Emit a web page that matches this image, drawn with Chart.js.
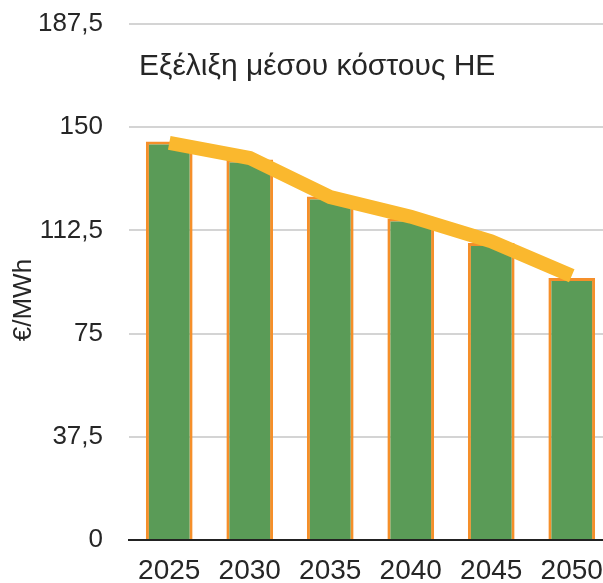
<!DOCTYPE html>
<html lang="el">
<head>
  <meta charset="UTF-8" />
  <title>Εξέλιξη μέσου κόστους ΗΕ</title>
  <style>
    html, body { margin: 0; padding: 0; background: #fff; overflow: hidden; }
    #wrap { width: 612px; height: 583px; position: relative; }
  </style>
</head>
<body>

<div id="wrap"><canvas id="graph"></canvas></div>

<script src="https://cdn.jsdelivr.net/npm/chart.js"></script>
<script>
// δεδομένα
const years = ['2025', '2030', '2035', '2040', '2045', '2050'];
const costBars = [144.8, 138.3, 124.8, 116.8, 107.9, 95.2];
const costLine = [144.3, 138.8, 124.6, 117.5, 108.5, 96];
const yTicks = [0, 37.5, 75, 112.5, 150, 187.5];
const chartTitle = 'Εξέλιξη μέσου κόστους ΗΕ';
const yLabel = '€/MWh     ';

const font = "'Liberation Sans', Arial, sans-serif";

// τίτλος μέσα στην περιοχή του γραφήματος
const innerTitle = {
  id: 'innerTitle',
  afterDraw(chart) {
    const c = chart.ctx;
    const y = chart.scales.y.getPixelForValue(172);
    c.save();
    c.font = '30px ' + font;
    c.fillStyle = '#262626';
    c.textAlign = 'left';
    c.textBaseline = 'middle';
    c.fillText(chartTitle, chart.chartArea.left + 10, y);
    c.restore();
  }
};

const ctx = document.getElementById('graph').getContext('2d');
new Chart(ctx, {
  data: {
    labels: years,
    datasets: [
      {
        type: 'line',
        data: costLine,
        borderColor: '#FAB82E',
        borderWidth: 14,
        borderCapStyle: 'butt',
        pointRadius: 0,
        tension: 0,
        order: 0
      },
      {
        type: 'bar',
        data: costBars,
        backgroundColor: '#5A9B57',
        borderColor: '#F58F2A',
        borderWidth: 3,
        categoryPercentage: 1,
        barPercentage: 0.58,
        order: 1
      }
    ]
  },
  plugins: [innerTitle],
  options: {
    responsive: true,
    maintainAspectRatio: false,
    animation: false,
    layout: { autoPadding: false, padding: { left: 8, top: 24, right: 0, bottom: 0 } },
    plugins: { legend: { display: false }, tooltip: { enabled: false } },
    scales: {
      x: {
        grid: { display: false, drawTicks: false },
        border: { display: true, color: '#222', width: 2 },
        ticks: { color: '#262626', font: { family: font, size: 28 }, padding: 14, maxRotation: 0 },
        afterFit(s) { s.height = 43; s.paddingLeft = 0; s.paddingRight = 0; }
      },
      y: {
        min: 0,
        max: 187.5,
        afterBuildTicks(s) { s.ticks = yTicks.map(v => ({ value: v })); },
        grid: {
          drawTicks: false,
          lineWidth: 2,
          color: c => (c.tick && c.tick.value === 0) ? '#222' : '#D4D4D4'
        },
        border: { display: false },
        ticks: {
          color: '#262626',
          font: { family: font, size: 26 },
          padding: 26,
          callback: v => String(v).replace('.', ',')
        },
        title: {
          display: true,
          text: yLabel,
          color: '#262626',
          font: { family: font, size: 26 },
          padding: { top: 0, bottom: 0 }
        },
        afterFit(s) { s.width = 121; s.paddingTop = 0; s.paddingBottom = 0; }
      }
    }
  }
});
</script>

</body>
</html>
